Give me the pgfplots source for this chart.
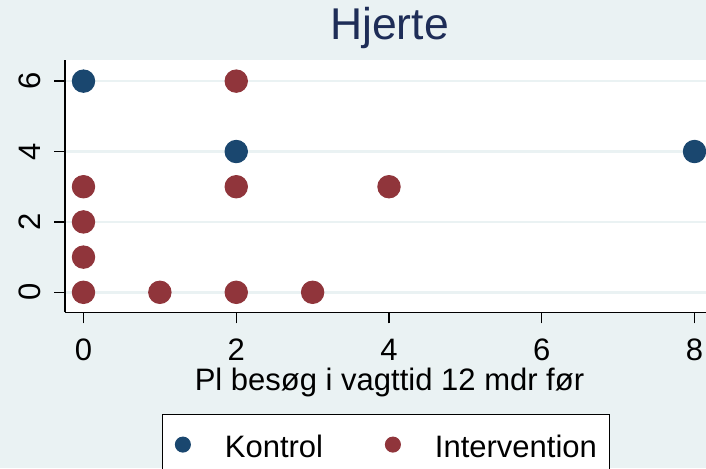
\documentclass[border=0pt]{standalone}
\usepackage{fontspec}
\setmainfont{Liberation Sans}
\usepackage{pgfplots}
\pgfplotsset{compat=1.18}
\definecolor{bgc}{HTML}{EAF2F3}
\definecolor{sna}{HTML}{1A476F}
\definecolor{smr}{HTML}{90353B}
\definecolor{ttl}{HTML}{1E2D57}
\begin{document}
\begin{tikzpicture}[x=1pt,y=1pt]
\clip (0,0) rectangle (706,468);
\fill[bgc] (0,0) rectangle (706,468);
\begin{axis}[
 at={(65pt,155.7pt)}, anchor=south west,
 scale only axis, width=649pt, height=252.3pt,
 xmin=-0.242, xmax=8.255, ymin=-0.568, ymax=6.6,
 axis lines*=left, axis line style={line width=1.3pt, -},
 axis background/.style={fill=white},
 xtick={0,2,4,6,8}, ytick={0,2,4,6},
 tick align=outside, major tick length=11pt,
 tick style={line width=1.3pt, black},
 ymajorgrids, grid style={line width=2.5pt, color=bgc},
 /pgf/number format/assume math mode=true,
 ticklabel style={font=\fontsize{31}{31}\selectfont},
 xticklabel style={anchor=north, inner sep=0pt},
 yticklabel style={rotate=90, anchor=south, inner sep=0pt},
 xticklabel shift=15.7pt, yticklabel shift=13.3pt,
 xlabel={Pl besøg i vagttid 12 mdr før},
 xlabel style={font=\fontsize{31}{31}\selectfont, at={(axis description cs:0.5,-0.308)}, anchor=base, inner sep=0pt},
 title={Hjerte},
 title style={font=\fontsize{44.5}{44.5}\selectfont, color=ttl, at={(axis description cs:0.5,1.0555)}, anchor=base, inner sep=0pt},
 legend columns=2,
 legend style={at={(axis description cs:0.1499,-0.4031)}, anchor=north west, draw=black, line width=1.2pt, fill=white,
   font=\fontsize{31}{31}\selectfont, inner xsep=12.5pt, inner ysep=20pt, nodes={inner sep=0pt},
   cells={anchor=west},
   /tikz/every odd column/.style={column sep=34.5pt}, /tikz/every even column/.style={column sep=62.3pt}},
 legend image code/.code={\draw[#1, mark size=7.5pt] plot coordinates {(0pt,2pt)};},
]
\addplot[only marks, mark=*, mark size=11.2pt, mark options={fill=sna, draw=sna, line width=1pt}] coordinates {(0,6) (2,4) (8,4)};
\addplot[only marks, mark=*, mark size=11.2pt, mark options={fill=smr, draw=smr, line width=1pt}] coordinates {(0,3) (0,2) (0,1) (0,0) (1,0) (2,0) (3,0) (2,3) (2,6) (4,3)};
\legend{Kontrol, Intervention\hspace{11pt}}
\end{axis}
\end{tikzpicture}
\end{document}
